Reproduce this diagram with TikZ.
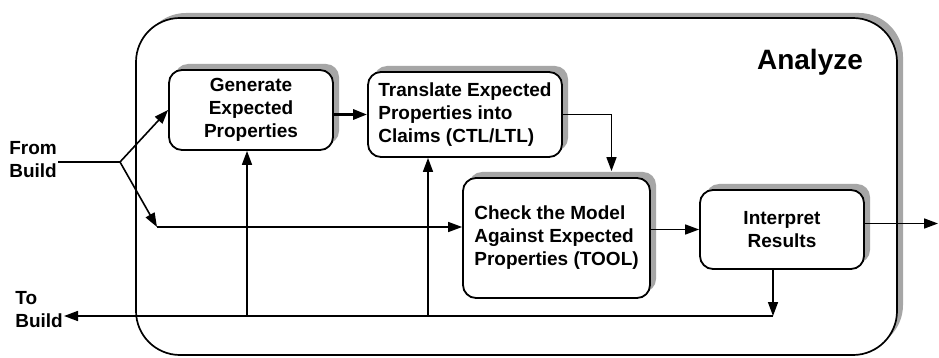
\documentclass[tikz,border=0pt]{standalone}
\usepackage{fontspec}
\setmainfont{Liberation Sans}
\usetikzlibrary{arrows.meta, positioning, shadows}

\begin{document}
\begin{tikzpicture}[
    x=1pt, y=-1pt,
    font=\bfseries\fontsize{19}{23}\selectfont,
box/.style = {draw, line width=1.8pt, rounded corners=13pt, fill=white,
              drop shadow={shadow xshift=6pt, shadow yshift=6pt,
                           fill=gray!70, opacity=1}},
lbl/.style = {align=left, inner sep=1pt},
ar/.style = {line width=1.6pt, -{Triangle[length=14pt, width=10pt]}},
sy+/.style = {yshift= 6pt},
sy-/.style = {yshift=-5pt}
                        ]
\useasboundingbox (0,0) rectangle (939,358);
% frame of the analysis phase
\fill[gray!70, rounded corners=44pt] (142,13) rectangle (903,349);
\draw[line width=1.7pt, fill=white, rounded corners=44pt] (136,18) rectangle (897,355);
\node (title) at (810,62) [font=\bfseries\fontsize{28}{32}\selectfont] {Analyze};
%
\node (gen)   [box, minimum width=164pt, minimum height=80pt, align=center]
      at (251,110)   {Generate\\Expected\\Properties};
\node (trans) [box, minimum width=194pt, minimum height=85pt, align=left]
      at (465,114.5) {Translate Expected\\Properties into\\Claims (CTL/LTL)};
\node (chk)   [box, minimum width=187pt, minimum height=120pt, align=left]
      at (556.5,238) {Check the Model\\Against Expected\\Properties (TOOL)};
\node (intr)  [box, minimum width=164pt, minimum height=79pt, align=center]
      at (782,229.5) {Interpret\\Results};
%
\node (from) [lbl, anchor=east] at (58,160) {From\\Build};
\node (to)   [lbl, anchor=east] at (64,310) {To\\Build};
\coordinate (split) at (120,162);
\coordinate (dn)    at (157,227);
\coordinate (out)   at (938,223.5);
\coordinate (fbr)   at (773,316);
\coordinate (b1)    at (247,316);
\coordinate (b2)    at (428,316);
%
\draw[line width=1.6pt] (from.east |- split) -- (split);
\draw[ar] (split) -- (gen.west);
\draw[ar] (split) -- (dn);
\draw[ar] (dn) -- (dn -| chk.west);
\draw[ar, line width=3pt] (trans.west -| gen.east) -- (trans.west);
\draw[ar] (trans.east) -| ([xshift=55pt, yshift=6pt] chk.north);
\draw[ar] (chk.east |- intr.west) -- (intr.west);
\draw[ar] ([sy+] intr.east) -- (out);
% feedback to the earlier steps
\draw[ar] (fbr |- intr.south) -- (fbr);
\draw[ar] (fbr) -- (to.east |- fbr);
\draw[ar] (b1) -- (b1 |- gen.south);
\draw[ar] (b2) -- (b2 |- trans.south);
\end{tikzpicture}
\end{document}
